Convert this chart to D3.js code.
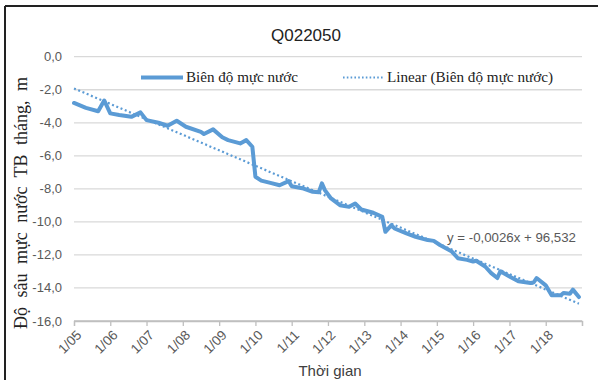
<!DOCTYPE html>
<html>
<head>
<meta charset="utf-8">
<script src="https://cdnjs.cloudflare.com/ajax/libs/d3/7.8.5/d3.min.js"></script>
<style>
  body { margin: 0; background: #fff; }
  svg { display: block; }
</style>
</head>
<body>
<div id="chart"></div>
<script>
// Biên độ mực nước - Q022050 (monthly)
const months = [
  "2005-01","2005-05","2005-09","2005-11","2006-01","2006-04","2006-08","2006-11",
  "2007-01","2007-05","2007-08","2007-11","2008-02","2008-07","2008-08","2008-11",
  "2009-02","2009-04","2009-08","2009-10","2009-12","2010-01","2010-03","2010-06",
  "2010-09","2010-12","2011-01","2011-05","2011-08","2011-10","2011-11","2011-12",
  "2012-02","2012-05","2012-08","2012-10","2012-12","2013-04","2013-07","2013-08",
  "2013-10","2013-11","2014-03","2014-06","2014-10","2014-12","2015-02","2015-06",
  "2015-08","2015-11","2016-01","2016-02","2016-05","2016-07","2016-09","2016-10",
  "2017-01","2017-04","2017-08","2017-09","2017-10","2018-01","2018-03","2018-06",
  "2018-07","2018-09","2018-10","2018-12"
];
const depth = [
  -2.8, -3.1, -3.3, -2.65, -3.43, -3.53, -3.64, -3.37,
  -3.84, -4.0, -4.18, -3.88, -4.24, -4.55, -4.68, -4.4,
  -4.88, -5.05, -5.25, -5.05, -5.45, -7.27, -7.5, -7.64,
  -7.78, -7.53, -7.84, -7.98, -8.18, -8.2, -7.67, -8.08,
  -8.58, -8.99, -9.09, -8.89, -9.25, -9.45, -9.7, -10.6,
  -10.2, -10.4, -10.7, -10.9, -11.1, -11.15, -11.4, -11.8,
  -12.2, -12.3, -12.4, -12.35, -12.7, -13.1, -13.4, -12.99,
  -13.3, -13.6, -13.7, -13.67, -13.4, -13.84, -14.44, -14.44,
  -14.3, -14.35, -14.1, -14.55
];
// duong xu huong (Linear)
const trendMonths = ["2005-01", "2018-12"];
const trendValues = [-1.92, -14.95];

const yTicks = [0, -2, -4, -6, -8, -10, -12, -14, -16];
const xTickYears = d3.range(2005, 2020);

const title = "Q022050";
const yTitle = "Độ sâu mực nước TB tháng, m";
const xTitle = "Thời gian";
const legendLine = "Biên  độ mực nước";
const legendTrend = "Linear  (Biên  độ mực nước)";
const equation = "y = -0,0026x + 96,532";

const W = 598, H = 380;
const blue = "#5b9bd5";
const parse = d3.timeParse("%Y-%m");

const svg = d3.select("#chart").append("svg").attr("width", W).attr("height", H);

// khung
svg.append("line").attr("x1", 5).attr("x2", W).attr("y1", 6).attr("y2", 6)
  .style("stroke", "#222").style("stroke-width", 2);
svg.append("line").attr("x1", 5).attr("x2", 5).attr("y1", 6).attr("y2", H)
  .style("stroke", "#222").style("stroke-width", 2);

const x = d3.scaleTime()
  .domain([new Date(2005, 0, 1), new Date(2019, 0, 1)])
  .range([74, 582]);
const y = d3.scaleLinear().domain([-16, 0]).range([321, 56.7]);

// gridlines
svg.append("g").selectAll("line").data(yTicks).join("line")
  .attr("x1", x.range()[0]).attr("x2", x.range()[1])
  .attr("y1", d => y(d)).attr("y2", d => y(d))
  .style("stroke", d => d === -16 ? "#bfbfbf" : "#d9d9d9")
  .style("stroke-width", 1.3);

// y labels
svg.append("g").selectAll("text").data(yTicks).join("text")
  .attr("x", 62).attr("y", d => y(d) + 4.5)
  .attr("text-anchor", "end")
  .style("font-family", "'Liberation Sans', Arial, sans-serif")
  .style("font-size", "13px").style("fill", "#595959")
  .text(d => d3.format(".1f")(d).replace(".", ",").replace("−", "-"));

// x axis ticks
const xAxis = d3.axisBottom(x)
  .tickValues(xTickYears.map(yr => new Date(yr, 0, 1)))
  .tickSize(5)
  .tickFormat(d => d.getFullYear() === 2019 ? "" : d3.timeFormat("%-m/%y")(d));
const gx = svg.append("g").attr("transform", `translate(0,${y(-16)})`).call(xAxis);
gx.select(".domain").style("stroke", "#bfbfbf").style("stroke-width", 1.3);
gx.selectAll(".tick line").style("stroke", "#bfbfbf").style("stroke-width", 1.3);
gx.selectAll(".tick text")
  .attr("text-anchor", "end")
  .attr("transform", "translate(5,12) rotate(-45)")
  .attr("dy", "0.3em").attr("y", 0).attr("x", 0)
  .style("font-family", "'Liberation Sans', Arial, sans-serif")
  .style("font-size", "13.5px").style("fill", "#595959");

// trend line
const trend = trendMonths.map((m, i) => ({ d: parse(m), v: trendValues[i] }));
svg.append("path").datum(trend)
  .attr("d", d3.line().x(d => x(d.d)).y(d => y(d.v)))
  .style("fill", "none").style("stroke", blue)
  .style("stroke-width", 2.2).style("stroke-dasharray", "2,2.6");

// data line
const series = months.map((m, i) => ({ d: parse(m), v: depth[i] }));
svg.append("path").datum(series)
  .attr("d", d3.line().x(d => x(d.d)).y(d => y(d.v)))
  .style("fill", "none").style("stroke", blue)
  .style("stroke-width", 4).style("stroke-linejoin", "round").style("stroke-linecap", "round");

// title
svg.append("text").attr("x", 306).attr("y", 41)
  .attr("text-anchor", "middle")
  .style("font-family", "'Liberation Sans', Arial, sans-serif")
  .style("font-size", "17px").style("fill", "#222")
  .text(title);

// legend
svg.append("line").attr("x1", 141).attr("x2", 183).attr("y1", 77.5).attr("y2", 77.5)
  .style("stroke", blue).style("stroke-width", 4);
svg.append("text").attr("x", 186).attr("y", 82)
  .attr("textLength", 112).attr("lengthAdjust", "spacingAndGlyphs")
  .style("font-family", "'Liberation Serif', 'Times New Roman', serif")
  .style("font-size", "15px").style("fill", "#222")
  .text(legendLine);
svg.append("line").attr("x1", 343).attr("x2", 384).attr("y1", 77.5).attr("y2", 77.5)
  .style("stroke", blue).style("stroke-width", 1.8).style("stroke-dasharray", "1.6,2.2");
svg.append("text").attr("x", 387).attr("y", 82)
  .attr("textLength", 166).attr("lengthAdjust", "spacingAndGlyphs")
  .style("font-family", "'Liberation Serif', 'Times New Roman', serif")
  .style("font-size", "15px").style("fill", "#222")
  .text(legendTrend);

// equation
svg.append("text").attr("x", 447).attr("y", 242)
  .attr("textLength", 129).attr("lengthAdjust", "spacingAndGlyphs")
  .style("font-family", "'Liberation Sans', Arial, sans-serif")
  .style("font-size", "13.5px").style("fill", "#595959")
  .text(equation);

// axis titles
svg.append("text").attr("x", 330).attr("y", 376)
  .attr("text-anchor", "middle")
  .style("font-family", "'Liberation Sans', Arial, sans-serif")
  .style("font-size", "15px").style("fill", "#404040")
  .text(xTitle);

svg.append("text")
  .attr("transform", "translate(27,203) rotate(-90)")
  .attr("text-anchor", "middle")
  .style("font-family", "'Liberation Serif', 'Times New Roman', serif")
  .style("font-size", "18px").style("word-spacing", "5px").style("fill", "#222")
  .text(yTitle);
</script>
</body>
</html>
